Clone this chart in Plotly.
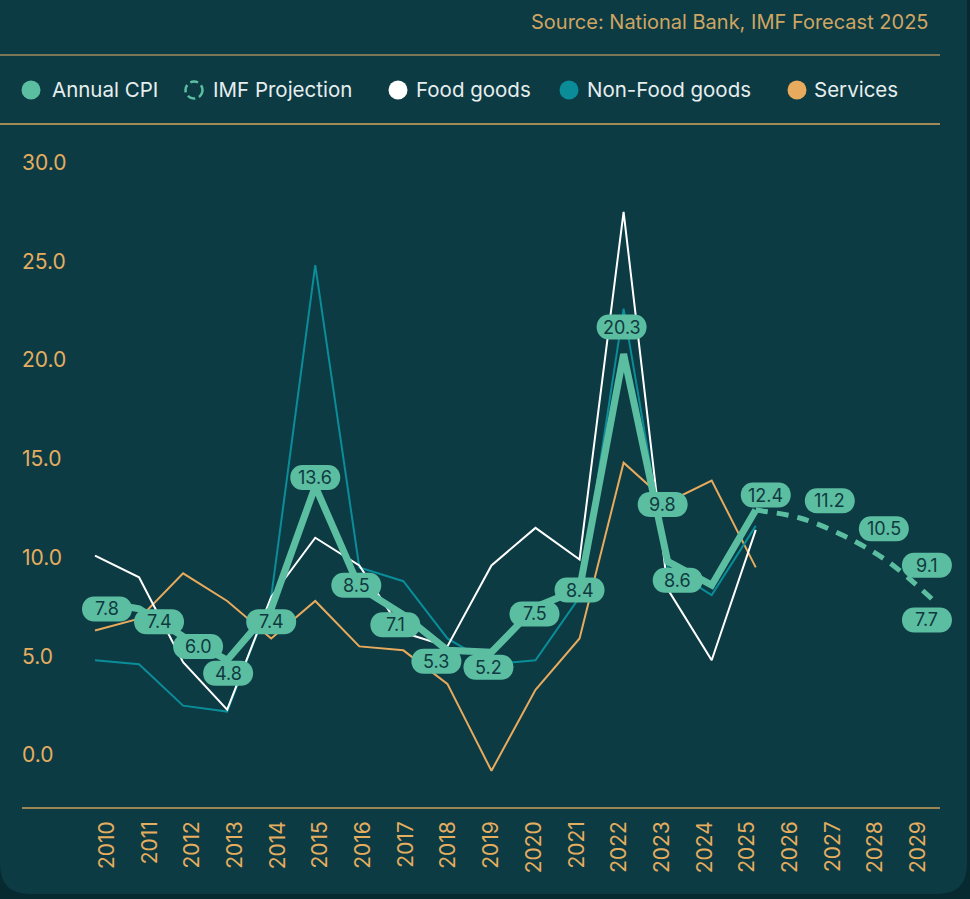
import plotly.graph_objects as go

# ---------------- data ----------------
years_hist = list(range(2010, 2026))
years_proj = [2025, 2026, 2027, 2028, 2029]
label_years_proj = [2026, 2027, 2028, 2029]
tick_years = list(range(2010, 2030))
tick_labels = [str(y) for y in tick_years]
y_ticks = [0, 5, 10, 15, 20, 25, 30]

annual_cpi = [7.8, 7.4, 6.0, 4.8, 7.4, 13.6, 8.5, 7.1, 5.3, 5.2, 7.5, 8.4, 20.3, 9.8, 8.6, 12.4]
food_goods = [10.1, 9.0, 4.7, 2.3, 8.0, 11.0, 9.6, 6.2, 5.5, 9.6, 11.5, 9.9, 27.5, 8.4, 4.8, 11.4]
non_food_goods = [4.8, 4.6, 2.5, 2.2, 8.0, 24.8, 9.5, 8.8, 5.9, 4.6, 4.8, 8.0, 22.6, 9.5, 8.1, 11.6]
services = [6.3, 6.9, 9.2, 7.8, 5.9, 7.8, 5.5, 5.3, 3.6, -0.8, 3.3, 5.9, 14.8, 12.8, 13.9, 9.5]
imf_projection_line = [12.4, 12.0, 11.1, 9.8, 7.9]
imf_projection_labels = [11.2, 10.5, 9.1, 7.7]

legend_names = ["Annual CPI", "IMF Projection", "Food goods", "Non-Food goods", "Services"]
source_text = "Source: National Bank, IMF Forecast 2025"

# ---------------- style ----------------
W, H = 970, 899
PL, PR, PT, PB = 22, 966, 140, 808
AXIS_END = 940
BG = "#0c3b44"
OUTER = "#062a30"
MINT = "#5cbea1"
TEAL = "#0a8d99"
ORANGE = "#e8aa5c"
WHITE = "#ffffff"
GOLD = "#e5ad5f"
LABEL_TXT = "#0f3a40"
FONT = "Inter"

# label pixel offsets (dx right, dy down) from data point
cpi_label_offsets = [(12, 8), (20, 13), (15, 10), (1, 13), (0, 13), (0, -9), (-3, -2), (-8, 10),
                     (-11, 11), (-3, 15), (-1, 7), (0, 1), (-2, -27), (-5, -57), (-34, -5), (10, -15)]
proj_label_offsets = [(30, -33), (40, -19), (39, -10), (-5, 17)]


def px_x(px):
    return (px - PL) / (PR - PL)


def px_y(py):
    return (PB - py) / (PB - PT)


def pill_path(cx, cy, w=50, h=25):
    r = h / 2
    k = 4 * r / 3
    xl, xr = cx - w / 2 + r, cx + w / 2 - r
    yb, yt = cy - h / 2, cy + h / 2
    return (f"M {xl},{yb} L {xr},{yb} C {xr + k},{yb} {xr + k},{yt} {xr},{yt} "
            f"L {xl},{yt} C {xl - k},{yt} {xl - k},{yb} {xl},{yb} Z")


# y-axis range from pixel geometry (0 at 755px, 19.75 px per unit)
y_lo = (755 - PB) / 19.75
y_hi = (755 - PT) / 19.75
# data x-axis: 2010 at 95px, 44.05 px per year
x_lo = 2010 - (95 - PL) / 44.05
x_hi = 2010 + (PR - 95) / 44.05
# tick label axis: 2010 at 107px, 42.7 px per year
x2_lo = 2010 - (107 - PL) / 42.7
x2_hi = 2010 + (PR - 107) / 42.7

fig = go.Figure()

# invisible trace to host tick-label axis
fig.add_trace(go.Scatter(x=tick_years, y=[None] * len(tick_years), xaxis="x2", yaxis="y",
                         mode="lines", showlegend=False, hoverinfo="skip"))

fig.add_trace(go.Scatter(x=years_hist, y=services, mode="lines", name="Services",
                         line=dict(color=ORANGE, width=2), showlegend=False))
fig.add_trace(go.Scatter(x=years_hist, y=non_food_goods, mode="lines", name="Non-Food goods",
                         line=dict(color=TEAL, width=2), showlegend=False))
fig.add_trace(go.Scatter(x=years_hist, y=food_goods, mode="lines", name="Food goods",
                         line=dict(color=WHITE, width=2), showlegend=False))
fig.add_trace(go.Scatter(x=years_proj, y=imf_projection_line, mode="lines", name="IMF Projection",
                         line=dict(color=MINT, width=5, dash="12px,9px", shape="spline"),
                         showlegend=False))
fig.add_trace(go.Scatter(x=years_hist, y=annual_cpi, mode="lines", name="Annual CPI",
                         line=dict(color=MINT, width=7), showlegend=False))

shapes = []
annotations = []

# card background with rounded bottom corners
cp = lambda x, y: f"{px_x(x)},{px_y(y)}"
card_path = (f"M {cp(0, -20)} L {cp(967, -20)} L {cp(967, 864)} Q {cp(967, 894)} {cp(937, 894)} "
             f"L {cp(30, 894)} Q {cp(0, 894)} {cp(0, 864)} Z")
shapes.append(dict(type="path", xref="paper", yref="paper", path=card_path,
                   fillcolor=BG, line=dict(width=0), layer="below"))

# separator lines and bottom axis line
shapes.append(dict(type="line", xref="paper", yref="paper", x0=px_x(0), x1=px_x(AXIS_END),
                   y0=px_y(55), y1=px_y(55), line=dict(color="#a08b5c", width=1.5)))
shapes.append(dict(type="line", xref="paper", yref="paper", x0=px_x(0), x1=px_x(AXIS_END),
                   y0=px_y(124), y1=px_y(124), line=dict(color="#d6a45d", width=1.5)))
shapes.append(dict(type="line", xref="paper", yref="paper", x0=px_x(PL), x1=px_x(AXIS_END),
                   y0=px_y(808), y1=px_y(808), line=dict(color="#c9a05a", width=1.5)))

# value pills
for yr, v, (dx, dy) in zip(years_hist, annual_cpi, cpi_label_offsets):
    shapes.append(dict(type="path", xref="x", yref="y", xsizemode="pixel", ysizemode="pixel",
                       xanchor=yr, yanchor=v, path=pill_path(dx, -dy),
                       fillcolor=MINT, line=dict(width=0), layer="above"))
    annotations.append(dict(x=yr, y=v, xref="x", yref="y", xshift=dx, yshift=-dy,
                            text=f"{v:.1f}", showarrow=False,
                            font=dict(family=FONT, size=18, color=LABEL_TXT)))
for yr, v, (dx, dy) in zip(label_years_proj, imf_projection_labels, proj_label_offsets):
    shapes.append(dict(type="path", xref="x", yref="y", xsizemode="pixel", ysizemode="pixel",
                       xanchor=yr, yanchor=v, path=pill_path(dx, -dy),
                       fillcolor=MINT, line=dict(width=0), layer="above"))
    annotations.append(dict(x=yr, y=v, xref="x", yref="y", xshift=dx, yshift=-dy,
                            text=f"{v:.1f}", showarrow=False,
                            font=dict(family=FONT, size=18, color=LABEL_TXT)))

# legend (manual)
legend_dots = [31, 194, 398, 569, 797]
legend_text_x = [50, 211, 414, 585, 812]
legend_colors = [MINT, MINT, WHITE, TEAL, ORANGE]
LY = 90
for name, cx, tx, col in zip(legend_names, legend_dots, legend_text_x, legend_colors):
    r = 9.5
    if name == "IMF Projection":
        shapes.append(dict(type="circle", xref="paper", yref="paper",
                           x0=px_x(cx - 8.5), x1=px_x(cx + 8.5), y0=px_y(LY + 8.5), y1=px_y(LY - 8.5),
                           line=dict(color=col, width=2.5, dash="8px,4px"), fillcolor="rgba(0,0,0,0)"))
    else:
        shapes.append(dict(type="circle", xref="paper", yref="paper",
                           x0=px_x(cx - r), x1=px_x(cx + r), y0=px_y(LY + r), y1=px_y(LY - r),
                           line=dict(width=0), fillcolor=col))
    annotations.append(dict(x=px_x(tx), y=px_y(LY), xref="paper", yref="paper", xanchor="left",
                            yanchor="middle", text=name, showarrow=False,
                            font=dict(family=FONT, size=20.5, color="#e6eeee")))

annotations.append(dict(x=px_x(931), y=px_y(22), xref="paper", yref="paper", xanchor="right",
                        yanchor="middle", text=source_text, showarrow=False,
                        font=dict(family=FONT, size=20, color="#cfa562")))

fig.update_layout(
    width=W, height=H, autosize=False,
    margin=dict(l=PL, r=W - PR, t=PT, b=H - PB, pad=0),
    paper_bgcolor=OUTER, plot_bgcolor="rgba(0,0,0,0)",
    showlegend=False,
    xaxis=dict(range=[x_lo, x_hi], showticklabels=False, showgrid=False, zeroline=False,
               showline=False, ticks=""),
    xaxis2=dict(range=[x2_lo, x2_hi], overlaying="x", anchor="y", side="bottom",
                tickvals=tick_years, ticktext=tick_labels, tickangle=-90,
                tickfont=dict(family=FONT, size=21, color=GOLD), ticklabelstandoff=8,
                showgrid=False, zeroline=False, showline=False, ticks=""),
    yaxis=dict(range=[y_lo, y_hi], tickvals=y_ticks, tickformat=".1f",
               ticklabelposition="inside", ticklabelstandoff=-3,
               tickfont=dict(family=FONT, size=21, color=GOLD),
               showgrid=False, zeroline=False, showline=False, ticks=""),
    shapes=shapes, annotations=annotations,
    hovermode=False,
)

fig.write_html("out.html", config={"displayModeBar": False},
               post_script="document.body.style.margin='0';")
